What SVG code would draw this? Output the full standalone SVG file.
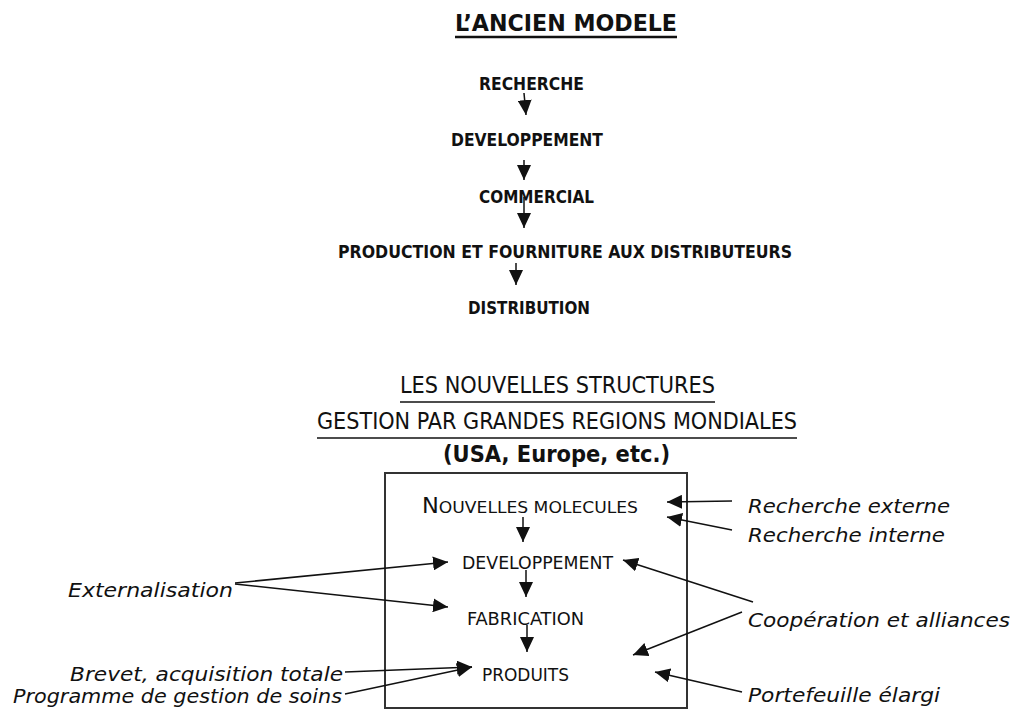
<svg xmlns="http://www.w3.org/2000/svg" width="1015" height="713" viewBox="0 0 1015 713">
<defs>
<style>
.f{font-family:"DejaVu Sans Condensed","DejaVu Sans","Liberation Sans",sans-serif;fill:#111}
.hb{font-size:17px;font-weight:bold}
.t1{font-size:23px;font-weight:bold}
.t2{font-size:23px}
.bx{font-size:17px}
.it{font-family:"DejaVu Sans","Liberation Sans",sans-serif;font-style:italic;font-size:19px;fill:#111}
.ln{stroke:#111;stroke-width:1.5;fill:none}
.ul{stroke:#111;fill:none}
.box{stroke:#333;stroke-width:2;fill:none}
</style>
<marker id="ah" markerUnits="userSpaceOnUse" markerWidth="16" markerHeight="14" viewBox="0 0 16 14" refX="15" refY="7" orient="auto">
<path d="M0,0 L15,7 L0,14 Z" fill="#111"/>
</marker>
</defs>
<rect width="1015" height="713" fill="#fff"/>

<g id="titre-ancien">
<text class="f t1" x="455" y="31" textLength="222" lengthAdjust="spacingAndGlyphs">L’ANCIEN MODELE</text>
<line class="ul" x1="455" y1="37" x2="677" y2="37" stroke-width="2.5"/>
</g>
<g id="recherche"><text class="f hb" x="479" y="90" textLength="105" lengthAdjust="spacingAndGlyphs">RECHERCHE</text></g>
<g id="developpement"><text class="f hb" x="451" y="146" textLength="152" lengthAdjust="spacingAndGlyphs">DEVELOPPEMENT</text></g>
<g id="commercial"><text class="f hb" x="479" y="203" textLength="115" lengthAdjust="spacingAndGlyphs">COMMERCIAL</text></g>
<g id="production"><text class="f hb" x="338" y="258" textLength="454" lengthAdjust="spacingAndGlyphs">PRODUCTION ET FOURNITURE AUX DISTRIBUTEURS</text></g>
<g id="distribution"><text class="f hb" x="468" y="314" textLength="122" lengthAdjust="spacingAndGlyphs">DISTRIBUTION</text></g>

<g id="titre-nouvelles">
<text class="f t2" x="400" y="393" textLength="315" lengthAdjust="spacingAndGlyphs">LES NOUVELLES STRUCTURES</text>
<line class="ul" x1="400" y1="402" x2="715" y2="402" stroke-width="1.6"/>
<text class="f t2" x="317" y="429" textLength="480" lengthAdjust="spacingAndGlyphs">GESTION PAR GRANDES REGIONS MONDIALES</text>
<line class="ul" x1="317" y1="438" x2="797" y2="438" stroke-width="1.6"/>
<text class="f t1" x="443" y="462" textLength="227" lengthAdjust="spacingAndGlyphs">(USA, Europe, etc.)</text>
</g>

<g id="cadre"><rect class="box" x="385" y="473" width="302" height="235"/></g>
<g id="nouvelles-molecules"><text class="f" x="422" y="513" textLength="216" lengthAdjust="spacingAndGlyphs"><tspan font-size="21">N</tspan><tspan font-size="16">OUVELLES MOLECULES</tspan></text></g>
<g id="developpement-2"><text class="f bx" x="462" y="569" textLength="151" lengthAdjust="spacingAndGlyphs">DEVELOPPEMENT</text></g>
<g id="fabrication"><text class="f bx" x="467" y="625" textLength="117" lengthAdjust="spacingAndGlyphs">FABRICATION</text></g>
<g id="produits"><text class="f bx" x="482" y="681" textLength="87" lengthAdjust="spacingAndGlyphs">PRODUITS</text></g>

<g id="recherche-externe"><text class="it" x="748" y="513" textLength="202" lengthAdjust="spacingAndGlyphs">Recherche externe</text></g>
<g id="recherche-interne"><text class="it" x="748" y="542" textLength="197" lengthAdjust="spacingAndGlyphs">Recherche interne</text></g>
<g id="externalisation"><text class="it" x="68" y="597" textLength="165" lengthAdjust="spacingAndGlyphs">Externalisation</text></g>
<g id="cooperation"><text class="it" x="748" y="627" textLength="262" lengthAdjust="spacingAndGlyphs">Coopération et alliances</text></g>
<g id="brevet"><text class="it" x="70" y="681" textLength="273" lengthAdjust="spacingAndGlyphs">Brevet, acquisition totale</text></g>
<g id="programme"><text class="it" x="13" y="703" textLength="329" lengthAdjust="spacingAndGlyphs">Programme de gestion de soins</text></g>
<g id="portefeuille"><text class="it" x="748" y="702" textLength="192" lengthAdjust="spacingAndGlyphs">Portefeuille élargi</text></g>

<g id="connecteurs" class="ln" marker-end="url(#ah)">
<line x1="524" y1="93" x2="526" y2="115"/>
<line x1="524" y1="160" x2="524" y2="180"/>
<line x1="524" y1="197" x2="524" y2="228"/>
<line x1="516" y1="263" x2="516" y2="285"/>
<line x1="523" y1="517" x2="523" y2="542"/>
<line x1="526" y1="570" x2="526" y2="597"/>
<line x1="527" y1="625" x2="527" y2="652"/>
<line x1="732" y1="501" x2="667" y2="502"/>
<line x1="732" y1="530" x2="667" y2="517"/>
<line x1="235" y1="583" x2="448" y2="562"/>
<line x1="235" y1="584" x2="448" y2="607"/>
<line x1="753" y1="602" x2="623" y2="560"/>
<line x1="742" y1="612" x2="633" y2="655"/>
<line x1="345" y1="672" x2="472" y2="667"/>
<line x1="345" y1="694" x2="472" y2="667"/>
<line x1="742" y1="692" x2="655" y2="672"/>
</g>
</svg>
